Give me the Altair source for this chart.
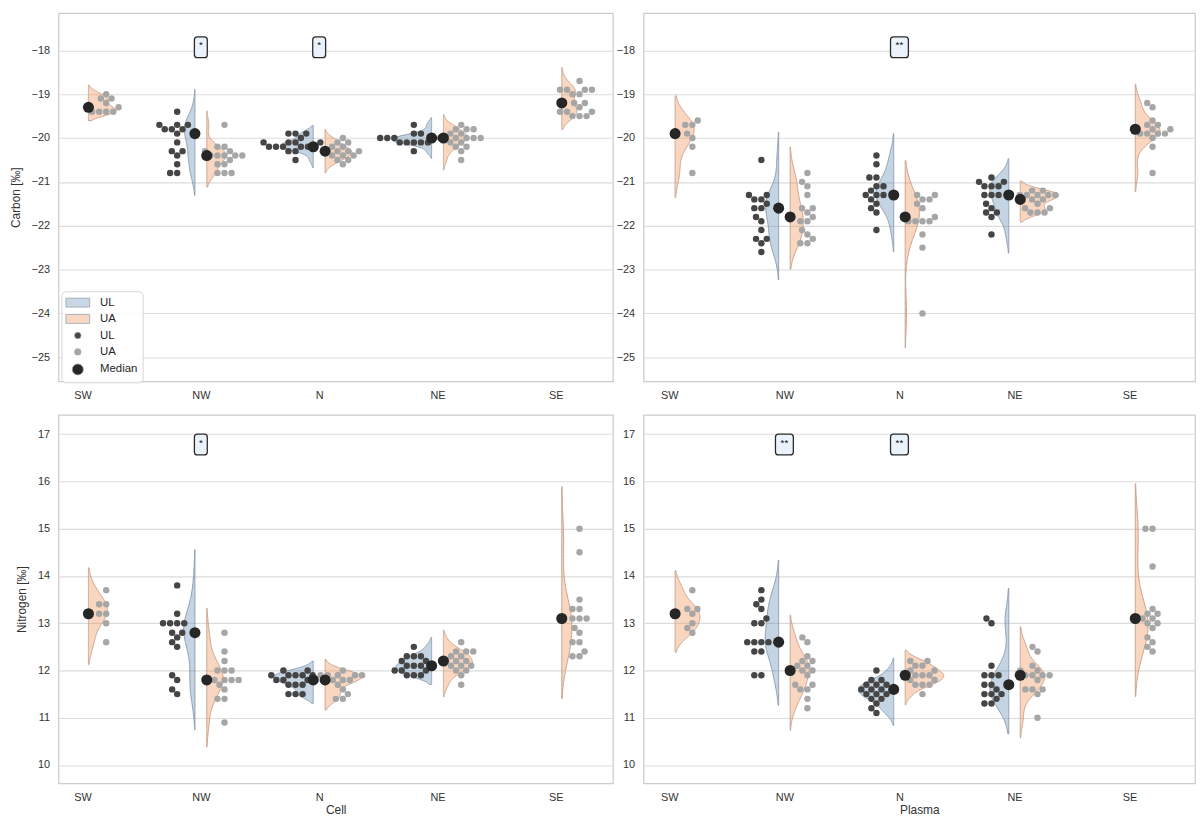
import json
import numpy as np
import pandas as pd
import altair as alt

# ---------------------------------------------------------------- data
CATEGORIES = ["SW", "NW", "N", "NE", "SE"]

CARBON_CELL_UL = {
    "NW": [-19.4, -19.7, -19.7, -19.7, -19.8, -19.8, -19.8, -19.9, -20.1, -20.3, -20.3, -20.4, -20.6, -20.8, -20.8],
    "N": [-19.9, -19.9, -19.9, -20.0, -20.1, -20.1, -20.1, -20.1, -20.2, -20.2, -20.2, -20.2, -20.2, -20.2, -20.3, -20.3, -20.5],
    "NE": [-19.7, -19.9, -19.9, -20.0, -20.0, -20.0, -20.0, -20.0, -20.1, -20.1, -20.1, -20.1, -20.1, -20.3],
}
CARBON_CELL_UA = {
    "SW": [-19.0, -19.1, -19.1, -19.2, -19.3, -19.4, -19.4, -19.4, -19.4],
    "NW": [-19.7, -20.2, -20.2, -20.3, -20.3, -20.4, -20.4, -20.4, -20.4, -20.4, -20.5, -20.6, -20.6, -20.8, -20.8, -20.8],
    "N": [-20.0, -20.1, -20.1, -20.2, -20.2, -20.3, -20.3, -20.3, -20.3, -20.4, -20.4, -20.4, -20.5, -20.5, -20.6],
    "NE": [-19.7, -19.8, -19.8, -19.8, -19.9, -19.9, -20.0, -20.0, -20.0, -20.0, -20.0, -20.1, -20.1, -20.2, -20.2, -20.3, -20.5],
    "SE": [-18.7, -18.9, -18.9, -18.9, -18.9, -19.0, -19.0, -19.2, -19.2, -19.3, -19.4, -19.4, -19.4, -19.5, -19.5, -19.5],
}
CARBON_PLASMA_UL = {
    "NW": [-20.5, -21.3, -21.3, -21.4, -21.4, -21.5, -21.6, -21.6, -21.8, -21.9, -22.1, -22.3, -22.3, -22.4, -22.6],
    "N": [-20.4, -20.6, -20.9, -20.9, -21.1, -21.1, -21.2, -21.3, -21.3, -21.3, -21.4, -21.5, -21.6, -21.7, -22.1],
    "NE": [-20.9, -21.0, -21.0, -21.1, -21.1, -21.1, -21.3, -21.3, -21.3, -21.5, -21.6, -21.7, -21.7, -21.8, -22.2],
}
CARBON_PLASMA_UA = {
    "SW": [-19.6, -19.7, -19.7, -19.9, -20.0, -20.2, -20.8],
    "NW": [-20.8, -21.0, -21.1, -21.3, -21.6, -21.6, -21.7, -21.8, -21.9, -21.9, -22.1, -22.2, -22.3, -22.4, -22.4],
    "N": [-21.3, -21.3, -21.4, -21.4, -21.5, -21.6, -21.8, -21.8, -21.9, -21.9, -21.9, -21.9, -22.2, -22.5, -24.0],
    "NE": [-21.2, -21.2, -21.3, -21.3, -21.3, -21.3, -21.3, -21.4, -21.4, -21.5, -21.6, -21.6, -21.7, -21.7, -21.7],
    "SE": [-19.2, -19.3, -19.6, -19.7, -19.7, -19.8, -19.8, -19.8, -19.9, -19.9, -19.9, -19.9, -20.0, -20.2, -20.8],
}
NITROGEN_CELL_UL = {
    "NW": [13.8, 13.2, 13.0, 13.0, 13.0, 13.0, 12.8, 12.8, 12.7, 12.6, 12.5, 11.9, 11.8, 11.6, 11.5],
    "N": [12.0, 12.0, 11.9, 11.9, 11.9, 11.9, 11.9, 11.8, 11.8, 11.8, 11.7, 11.7, 11.7, 11.5, 11.5, 11.5],
    "NE": [12.5, 12.3, 12.3, 12.3, 12.2, 12.2, 12.1, 12.1, 12.1, 12.1, 12.0, 12.0, 12.0, 11.9, 11.9, 11.9],
}
NITROGEN_CELL_UA = {
    "SW": [13.7, 13.4, 13.4, 13.2, 13.2, 13.0, 12.6],
    "NW": [12.8, 12.4, 12.2, 12.0, 12.0, 12.0, 11.8, 11.8, 11.8, 11.8, 11.7, 11.6, 11.4, 11.4, 10.9],
    "N": [12.0, 11.9, 11.9, 11.9, 11.9, 11.9, 11.8, 11.8, 11.8, 11.7, 11.6, 11.5, 11.4, 11.4],
    "NE": [12.6, 12.4, 12.4, 12.4, 12.3, 12.3, 12.2, 12.2, 12.2, 12.1, 12.1, 12.1, 12.0, 12.0, 11.9, 11.7],
    "SE": [15.0, 14.5, 13.5, 13.3, 13.3, 13.1, 13.1, 13.1, 12.9, 12.8, 12.6, 12.6, 12.4, 12.3, 12.3],
}
NITROGEN_PLASMA_UL = {
    "NW": [13.7, 13.5, 13.4, 13.3, 13.1, 13.0, 13.0, 12.6, 12.6, 12.6, 12.6, 12.4, 12.4, 11.9, 11.9],
    "N": [12.0, 11.8, 11.8, 11.7, 11.7, 11.7, 11.6, 11.6, 11.6, 11.5, 11.5, 11.5, 11.4, 11.4, 11.3, 11.2, 11.1],
    "NE": [13.1, 13.0, 12.1, 11.9, 11.9, 11.9, 11.7, 11.7, 11.6, 11.5, 11.5, 11.5, 11.4, 11.3, 11.3],
}
NITROGEN_PLASMA_UA = {
    "SW": [13.7, 13.3, 13.3, 13.2, 13.0, 12.9, 12.8],
    "NW": [12.7, 12.6, 12.3, 12.2, 12.2, 12.1, 12.1, 12.0, 12.0, 11.9, 11.7, 11.7, 11.6, 11.6, 11.4, 11.2],
    "N": [12.2, 12.2, 12.1, 12.1, 12.0, 12.0, 11.9, 11.9, 11.9, 11.9, 11.8, 11.8, 11.7, 11.7, 11.7, 11.5],
    "NE": [12.5, 12.4, 12.1, 12.0, 12.0, 11.9, 11.9, 11.9, 11.9, 11.8, 11.6, 11.6, 11.6, 11.5, 11.0],
    "SE": [15.0, 15.0, 14.2, 13.3, 13.2, 13.2, 13.1, 13.1, 13.0, 13.0, 12.9, 12.7, 12.6, 12.5, 12.4],
}

# (element, tissue, category, label)
SIGNIFICANCE = [
    ("Carbon", "Cell", "NW", "*"),
    ("Carbon", "Cell", "N", "*"),
    ("Carbon", "Plasma", "N", "**"),
    ("Nitrogen", "Cell", "NW", "*"),
    ("Nitrogen", "Plasma", "NW", "**"),
    ("Nitrogen", "Plasma", "N", "**"),
]
ANNOT_LEVEL = {"Carbon": -17.93, "Nitrogen": 16.78}

DATA = {
    ("Carbon", "Cell"): {"UL": CARBON_CELL_UL, "UA": CARBON_CELL_UA},
    ("Carbon", "Plasma"): {"UL": CARBON_PLASMA_UL, "UA": CARBON_PLASMA_UA},
    ("Nitrogen", "Cell"): {"UL": NITROGEN_CELL_UL, "UA": NITROGEN_CELL_UA},
    ("Nitrogen", "Plasma"): {"UL": NITROGEN_PLASMA_UL, "UA": NITROGEN_PLASMA_UA},
}

# ---------------------------------------------------------------- layout / style
PANEL_W = {"Cell": 560, "Plasma": 557}
PANEL_H = 372
X_DOMAIN = {"Cell": [-0.203, 4.482], "Plasma": [-0.224, 4.569]}
Y_DOMAIN = {"Carbon": [-25.55, -17.15], "Nitrogen": [9.614, 17.405]}
Y_TICKS = {"Carbon": list(range(-25, -17)), "Nitrogen": list(range(10, 18))}
Y_TITLE = {"Carbon": "Carbon [‰]", "Nitrogen": "Nitrogen [‰]"}

FONT = "Liberation Sans"
HUE_SIGN = {"UL": -1, "UA": 1}
SWARM_DODGE = 0.2
VIOLIN_GAP = 0.05
VIOLIN_MAXW = 0.335
DOT_D = 6.8  # swarm spacing diameter in px

VIOLIN_FILL = {"UL": "#5f87af", "UA": "#eb8d4e"}
VIOLIN_EDGE = {"UL": "#8a9bb0", "UA": "#c9a08a"}

LEGEND_KEYS = ["UL violin", "UA violin", "UL", "UA", "Median"]
LEGEND_COLORS = ["#c9d7e5", "#f8d8c3", "#454545", "#a6a6a6", "#262626"]
RECT_PATH = "M-2,-0.75L2,-0.75L2,0.75L-2,0.75Z"
LEGEND_SHAPES = [RECT_PATH, RECT_PATH, "circle", "circle", "circle"]
LEGEND_SIZES = [144, 144, 42, 42, 125]


def rounded_box(hw, hh=1.0, r=0.29):
    return (f"M{-hw + r},{-hh}L{hw - r},{-hh}Q{hw},{-hh} {hw},{-hh + r}"
            f"L{hw},{hh - r}Q{hw},{hh} {hw - r},{hh}L{-hw + r},{hh}"
            f"Q{-hw},{hh} {-hw},{hh - r}L{-hw},{-hh + r}Q{-hw},{-hh} {-hw + r},{-hh}Z")


BOX_SHAPE = {"*": rounded_box(0.62), "**": rounded_box(0.86)}
BOX_SIZE = 441


def swarm_offsets(vals_px, d):
    order = np.argsort(vals_px, kind="stable")
    placed = []
    offs = np.zeros(len(vals_px))
    for i in order:
        y = vals_px[i]
        neigh = [(px, py) for (px, py) in placed if abs(py - y) < d]
        cands = [0.0]
        left_first = True
        for px, py in neigh:
            dx = np.sqrt(max(d * d - (y - py) ** 2, 0.0)) * 1.05
            pair = [px - dx, px + dx] if left_first else [px + dx, px - dx]
            cands.extend(pair)
            left_first = not left_first
        cands = sorted(cands, key=abs)
        chosen = cands[-1]
        for c in cands:
            if all((c - px) ** 2 + (y - py) ** 2 >= d * d * 0.999 for px, py in neigh):
                chosen = c
                break
        offs[i] = chosen
        placed.append((chosen, y))
    return offs


def build_panel(element, tissue):
    groups = DATA[(element, tissue)]
    xd, yd = X_DOMAIN[tissue], Y_DOMAIN[element]
    pxu = PANEL_W[tissue] / (xd[1] - xd[0])
    pyu = PANEL_H / (yd[1] - yd[0])

    dens_list, prows, mrows = [], [], []
    for hue in ["UL", "UA"]:
        for cat, vals in groups[hue].items():
            ci = CATEGORIES.index(cat)
            v = np.array(vals, dtype=float)
            n = len(v)
            bw = v.std(ddof=1) * n ** (-0.2)
            grid = np.linspace(v.min() - 2 * bw, v.max() + 2 * bw, 160)
            dens = np.exp(-0.5 * ((grid[:, None] - v[None, :]) / bw) ** 2).sum(1) / (n * bw * np.sqrt(2 * np.pi))
            dens_list.append((hue, cat, ci, grid, dens))
            offs = swarm_offsets(v * pyu, DOT_D)
            for val, o in zip(v, offs):
                prows.append({"x": ci + HUE_SIGN[hue] * SWARM_DODGE + o / pxu, "y": val, "key": hue})
            mrows.append({"x": ci + HUE_SIGN[hue] * VIOLIN_GAP, "y": float(np.median(v)), "key": "Median"})

    dmax = max(d.max() for *_, d in dens_list)
    vrows = []
    for hue, cat, ci, grid, dens in dens_list:
        inner = ci + HUE_SIGN[hue] * VIOLIN_GAP
        for g, dv in zip(grid, dens):
            outer = inner + HUE_SIGN[hue] * dv / dmax * VIOLIN_MAXW
            vrows.append({"y": g, "xa": min(inner, outer), "xb": max(inner, outer),
                          "vid": f"{hue}-{cat}", "hue": hue})
    vdf = pd.DataFrame(vrows)
    pdf = pd.DataFrame(prows + mrows)

    ann = pd.DataFrame([{"x": CATEGORIES.index(c), "y": ANNOT_LEVEL[element], "label": lab}
                        for (e, t, c, lab) in SIGNIFICANCE if e == element and t == tissue])

    is_left = tissue == "Cell"
    is_top = element == "Carbon"

    xs = alt.Scale(domain=xd, nice=False, zero=False)
    ys = alt.Scale(domain=yd, nice=False, zero=False)
    x_axis = alt.Axis(values=list(range(len(CATEGORIES))),
                      labelExpr=f"{json.dumps(CATEGORIES)}[datum.value]",
                      grid=False, title=(None if is_top else tissue),
                      labelPadding=8, titlePadding=3)
    y_axis = alt.Axis(values=Y_TICKS[element],
                      labelExpr="replace(datum.label, '-', '\u2212')",
                      grid=True, title=(Y_TITLE[element] if is_left else None),
                      labelPadding=9, titlePadding=9)

    layers = []
    for hue in ["UL", "UA"]:
        sub = vdf[vdf["hue"] == hue]
        if len(sub) == 0:
            continue
        layers.append(
            alt.Chart(sub).mark_area(orient="horizontal", fill=VIOLIN_FILL[hue], fillOpacity=0.36,
                                     stroke=VIOLIN_EDGE[hue], strokeWidth=1, clip=True)
            .encode(y=alt.Y("y:Q", scale=ys, axis=y_axis),
                    x=alt.X("xa:Q", scale=xs, axis=x_axis),
                    x2="xb:Q",
                    detail="vid:N")
        )

    if is_left and is_top:
        leg = alt.Legend(title=None, orient="none", legendX=3, legendY=281, padding=5,
                         cornerRadius=4, fillColor="rgba(255,255,255,0.85)", strokeColor="#d6d6d6",
                         labelFont=FONT, labelFontSize=11.5, labelColor="#262626",
                         labelExpr="split(datum.label, ' ')[0]", labelOffset=16, rowPadding=3.5,
                         symbolOffset=5, symbolStrokeColor="#9aa5b1", symbolStrokeWidth=0.8)
    else:
        leg = None

    layers.append(
        alt.Chart(pdf).mark_point(filled=True, opacity=1)
        .encode(x=alt.X("x:Q", scale=xs, axis=x_axis),
                y=alt.Y("y:Q", scale=ys, axis=y_axis),
                color=alt.Color("key:N", scale=alt.Scale(domain=LEGEND_KEYS, range=LEGEND_COLORS), legend=leg),
                shape=alt.Shape("key:N", scale=alt.Scale(domain=LEGEND_KEYS, range=LEGEND_SHAPES), legend=leg),
                size=alt.Size("key:N", scale=alt.Scale(type="ordinal", domain=LEGEND_KEYS, range=LEGEND_SIZES),
                              legend=leg))
    )

    for lab in ["*", "**"]:
        sub = ann[ann["label"] == lab] if len(ann) else ann
        if len(sub) == 0:
            continue
        layers.append(
            alt.Chart(sub).mark_point(shape=BOX_SHAPE[lab], size=BOX_SIZE, filled=True, fill="#eaf3fc",
                                      stroke="#2a2a2a", strokeWidth=1.3, opacity=1)
            .encode(x=alt.X("x:Q", scale=xs, axis=x_axis), y=alt.Y("y:Q", scale=ys, axis=y_axis))
        )
        layers.append(
            alt.Chart(sub).mark_text(font=FONT, fontSize=10, color="#111111", baseline="middle", dy=-2)
            .encode(x=alt.X("x:Q", scale=xs, axis=x_axis), y=alt.Y("y:Q", scale=ys, axis=y_axis),
                    text="label:N")
        )

    return alt.layer(*layers).properties(width=PANEL_W[tissue], height=PANEL_H)


RES = dict(color="independent", shape="independent", size="independent")

chart = (
    alt.concat(build_panel("Carbon", "Cell"), build_panel("Carbon", "Plasma"),
               build_panel("Nitrogen", "Cell"), build_panel("Nitrogen", "Plasma"),
               columns=2, spacing=alt.RowColnumber(row=34, column=31), bounds="flush")
    .resolve_scale(**RES)
    .properties(padding={"left": 0, "top": 0, "right": 0, "bottom": 0}, background="white")
    .configure_view(stroke="#cccccc", strokeWidth=1.25)
    .configure_axis(labelFont=FONT, labelFontSize=11, labelColor="#333333",
                    titleFont=FONT, titleFontSize=12, titleColor="#333333", titleFontWeight="normal",
                    domain=False, ticks=False, gridColor="#dcdcdc", gridWidth=1.1)
)

chart.save("out.html", embed_options={"renderer": "svg", "actions": False})
